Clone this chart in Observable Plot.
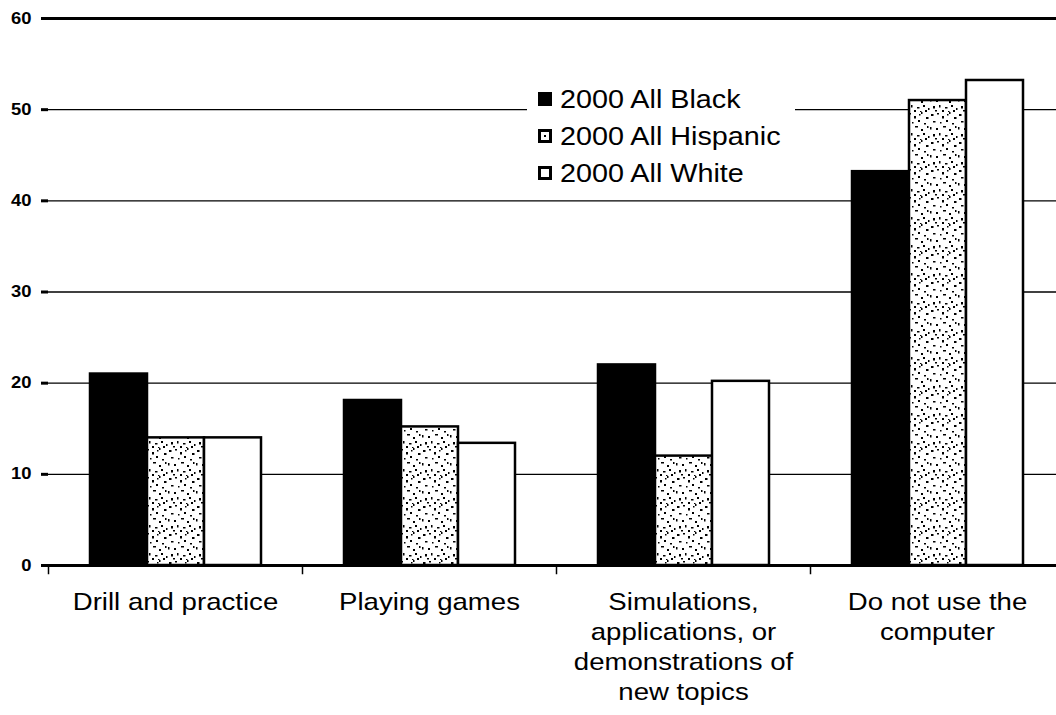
<!DOCTYPE html>
<html>
<head>
<meta charset="utf-8">
<script src="https://cdn.jsdelivr.net/npm/d3@7"></script>
<script src="https://cdn.jsdelivr.net/npm/@observablehq/plot@0.6"></script>
<style>
  body { margin: 0; background: #fff; }
  #chart { position: relative; width: 1056px; height: 715px; overflow: hidden; background: #fff; }
  #chart svg { display: block; }
  .legend {
    position: absolute; left: 527px; top: 81px; width: 268px; height: 111px;
    background: #fff; font-family: "Liberation Sans", Arial, sans-serif; font-size: 25px; color: #000;
  }
  .legend .item { position: relative; height: 37px; }
  .legend .sw { position: absolute; left: 11px; top: 11px; width: 14px; height: 14px; box-sizing: border-box; }
  .legend .sw0 { background: #000; }
  .legend .sw1, .legend .sw2 { border: 3px solid #000; background: #fff; }
  .legend .sw1::after { content: ""; position: absolute; left: 3px; top: 3px; width: 2px; height: 2px; background: #000; }
  .legend .lab {
    position: absolute; left: 33px; top: 3px; line-height: 30px; white-space: nowrap;
    transform: scaleX(1.15); transform-origin: left center;
  }
</style>
</head>
<body>
<div id="chart"></div>
<script>
// Share of students by how the computer is used in class (percent)
const categories = [
  "Drill and practice",
  "Playing games",
  "Simulations,\napplications, or\ndemonstrations of\nnew topics",
  "Do not use the\ncomputer"
];
const series = ["2000 All Black", "2000 All Hispanic", "2000 All White"];
const blackValues = [21, 18.1, 22, 43.2];
const hispanicValues = [14, 15.2, 12, 51];
const whiteValues = [14, 13.4, 20.2, 53.2];
const yTicks = [0, 10, 20, 30, 40, 50, 60];

const seriesValues = [blackValues, hispanicValues, whiteValues];
const rows = categories.flatMap((category, i) =>
  series.map((s, j) => ({category, series: s, value: seriesValues[j][i]}))
);

// Layout
const W = 1056, H = 715;
const mL = 48, mT = 18, mB = 150;
const frameRight = 1064; // the last group runs slightly past the page edge

// Speckle texture used for the Hispanic bars
const stippleSize = 28;
const stippleDots = [
  [1,2,2.5,2],[7,1,2,1.5],[12,4,2,2.5],[19,0,1.5,2],[24,5,2.5,2],[3,9,2.5,1.5],[10,10,1.5,1.5],
  [16,8,2,2],[22,11,2,1.5],[0,15,1.5,2.5],[6,16,2,2],[13,14,3,1.5],[19,17,2,2],[25,14,1.5,2],
  [3,22,2,2.5],[9,21,1.5,2.5],[15,23,2.5,1.5],[21,21,2,2],[26,24,1.5,2],[5,26,2,1.5],[12,26,2,2],
  [18,27,1.5,1],[23,26,2,2],[17,2,1.5,1.5]
];

const plot = Plot.plot({
  width: W,
  height: H,
  marginLeft: mL,
  marginRight: 0,
  marginTop: mT,
  marginBottom: mB,
  style: {
    fontFamily: "'Liberation Sans', Arial, sans-serif",
    fontSize: "24px",
    color: "#000",
    background: "#fff",
    overflow: "hidden"
  },
  fx: {domain: categories, range: [mL, frameRight], padding: 0, label: null},
  x: {domain: series, paddingInner: 0, paddingOuter: 0.716, axis: null},
  y: {domain: [0, 60]},
  color: {domain: series, range: ["#000", "url(#stipple)", "#fff"]},
  marks: [
    Plot.ruleY(yTicks.filter((d) => d > 0 && d < 60), {stroke: "#000", strokeWidth: 1.4}),
    Plot.barY(rows, {
      fx: "category", x: "series", y: "value",
      fill: "series", stroke: "#000", strokeWidth: 2.5
    }),
    Plot.ruleY([60], {stroke: "#000", strokeWidth: 3}),
    Plot.ruleY([0], {stroke: "#000", strokeWidth: 3}),
    Plot.frame({anchor: "left", insetTop: H - mT - mB, insetBottom: -8, stroke: "#000", strokeWidth: 1.5}),
    Plot.axisY({
      ticks: yTicks, tickSize: 7, tickPadding: 10, line: true,
      strokeWidth: 3, label: null
    }),
    Plot.axisFx({anchor: "bottom", tickSize: 0, tickPadding: 23, lineHeight: 1.25, label: null})
  ]
});

// Pattern definitions for the speckled fill
const svg = d3.select(plot);
const pattern = svg.insert("defs", ":first-child")
  .append("pattern")
  .attr("id", "stipple")
  .attr("patternUnits", "userSpaceOnUse")
  .attr("width", stippleSize)
  .attr("height", stippleSize);
pattern.append("rect").attr("width", stippleSize).attr("height", stippleSize).attr("fill", "#fff");
pattern.selectAll("rect.dot").data(stippleDots).join("rect")
  .attr("class", "dot")
  .attr("x", (d) => d[0]).attr("y", (d) => d[1])
  .attr("width", (d) => d[2]).attr("height", (d) => d[3])
  .attr("fill", "#000");

// Tick label typography: numeric value labels are small and bold
const tickNames = new Set(yTicks.map(String));
svg.selectAll("text").each(function () {
  if (tickNames.has(this.textContent.trim())) {
    this.style.fontSize = "16px";
    this.style.fontWeight = "bold";
  } else {
    this.style.fontSize = "24px";
  }
  // Slightly wide lettering
  const t = this.getAttribute("transform") || "";
  this.setAttribute("transform", `${t} scale(1.15,1)`);
});

const chart = document.getElementById("chart");
chart.appendChild(plot);

// Legend overlaid on the plot area
const legend = d3.select(chart).append("div").attr("class", "legend");
const items = legend.selectAll("div.item").data(series).join("div").attr("class", "item");
items.append("span").attr("class", (d, i) => `sw sw${i}`);
items.append("span").attr("class", "lab").text((d) => d);
</script>
</body>
</html>
